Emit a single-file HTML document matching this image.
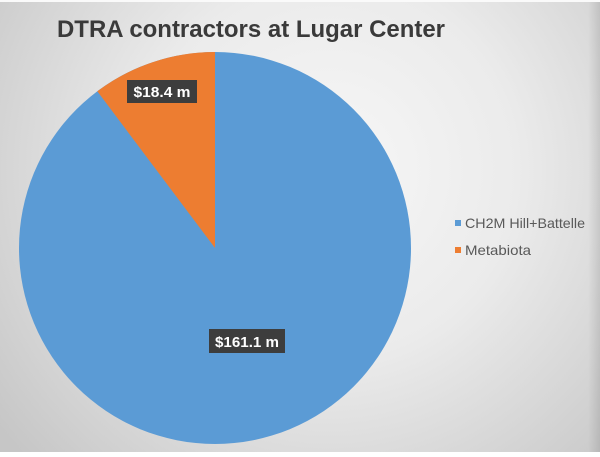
<!DOCTYPE html>
<html><head><meta charset="utf-8">
<style>
html,body{margin:0;padding:0;}
body{width:600px;height:452px;overflow:hidden;}
</style></head>
<body>
<svg width="600" height="452" viewBox="0 0 600 452" xmlns="http://www.w3.org/2000/svg">
<defs>
<radialGradient id="bg" cx="330" cy="170" r="420" gradientUnits="userSpaceOnUse">
<stop offset="0" stop-color="#f7f7f7"/>
<stop offset="0.45" stop-color="#ebebeb"/>
<stop offset="1" stop-color="#c6c6c6"/>
</radialGradient>
<linearGradient id="redge" x1="0" x2="1">
<stop offset="0" stop-color="#000" stop-opacity="0"/>
<stop offset="1" stop-color="#000" stop-opacity="0.1"/>
</linearGradient>
</defs>
<rect width="600" height="452" fill="url(#bg)"/>
<rect x="588" y="0" width="12" height="452" fill="url(#redge)"/>
<rect x="0" y="0" width="600" height="2" fill="#fafafa"/>
<text x="57" y="37" font-family="Liberation Sans, sans-serif" font-weight="bold" font-size="24" fill="#3a3a3a" textLength="388" lengthAdjust="spacingAndGlyphs">DTRA contractors at Lugar Center</text>
<!-- pie -->
<circle cx="215" cy="248" r="196" fill="#5b9bd5"/>
<path d="M215,248 L215,52 A196,196 0 0 0 97.3,91.3 Z" fill="#ed7d31"/>
<!-- labels -->
<rect x="127" y="80" width="70" height="23" fill="#3d3d3d"/>
<text x="162" y="97" text-anchor="middle" font-family="Liberation Sans, sans-serif" font-weight="bold" font-size="15" fill="#fff" textLength="57" lengthAdjust="spacingAndGlyphs">$18.4 m</text>
<rect x="209" y="329" width="76" height="24" fill="#3d3d3d"/>
<text x="247" y="347" text-anchor="middle" font-family="Liberation Sans, sans-serif" font-weight="bold" font-size="15" fill="#fff" textLength="64" lengthAdjust="spacingAndGlyphs">$161.1 m</text>
<!-- legend -->
<rect x="455" y="220" width="6" height="6" fill="#5b9bd5"/>
<text x="465" y="228" font-family="Liberation Sans, sans-serif" font-size="14" fill="#595959" textLength="120" lengthAdjust="spacingAndGlyphs">CH2M Hill+Battelle</text>
<rect x="455" y="247" width="6" height="6" fill="#ed7d31"/>
<text x="465" y="255" font-family="Liberation Sans, sans-serif" font-size="14" fill="#595959" textLength="66" lengthAdjust="spacingAndGlyphs">Metabiota</text>
</svg>
</body></html>
